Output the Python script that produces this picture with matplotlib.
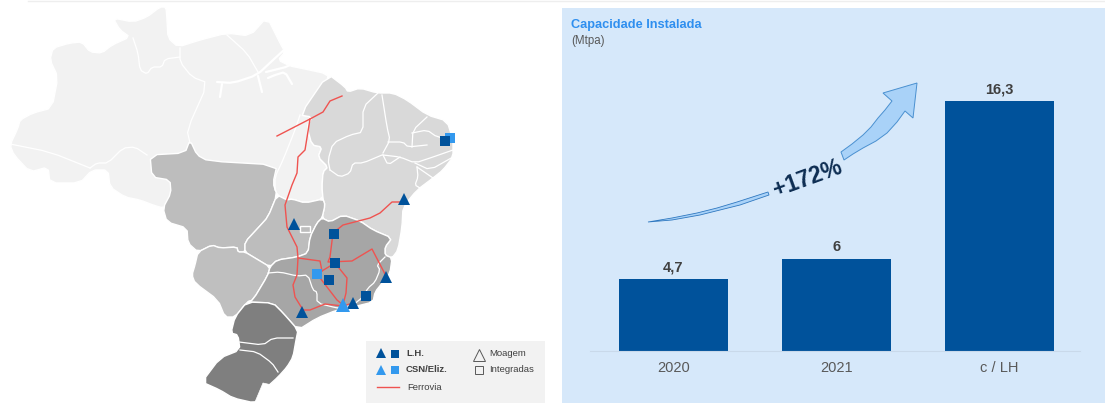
import matplotlib
matplotlib.use("Agg")
import matplotlib.pyplot as plt
from matplotlib.patches import Polygon, Rectangle

plt.rcParams['font.family'] = ['Liberation Sans', 'DejaVu Sans']

# bar chart data
categories = ["2020", "2021", "c / LH"]
capacity = [4.7, 6, 16.3]
capacity_labels = ["4,7", "6", "16,3"]

# map outlines (image pixels)
north = [(10,145),(18,128),(20,120),(33,113),(52,108),(58,77),(50,60),(53,48),(70,43),(82,42),(90,52),(102,53),
         (112,45),(130,37),(120,30),(113,18),(133,22),(147,17),(160,7),(166,7),(167,20),(168,38),(178,47),(200,40),
         (227,33),(250,36),(267,17),(280,43),(285,52),(278,60),(290,66),(300,68),(328,74),(327,83),(300,115),
         (312,117),(307,127),(312,145),(322,147),(318,157),(328,167),(323,172),(322,187),(323,199),(305,203),
         (292,199),(287,200),(277,195),(273,183),(200,200),(163,208),(153,205),(140,200),(125,197),(110,187),
         (108,170),(92,170),(80,183),(50,183),(48,167),(30,172),(14,155)]
northeast = [(300,115),(328,74),(345,87),(348,92),(360,88),(377,93),(393,93),(407,100),(427,115),(447,121),
             (453,140),(453,157),(443,170),(433,178),(417,190),(403,207),(402,227),(398,250),(392,258),(385,255),
             (385,247),(392,238),(373,230),(360,221),(343,215),(330,222),(322,218),(325,205),(323,199),(322,187),
             (323,172),(328,167),(318,157),(322,147),(312,145),(307,127),(312,117)]
mato_grosso = [(150,155),(185,153),(190,140),(197,155),(208,161),(277,165),(273,183),(277,195),(268,217),(258,228),
               (245,242),(245,252),(238,252),(237,247),(220,248),(212,245),(198,252),(188,243),(187,228),(167,222),
               (163,208),(171,193),(170,180),(152,177)]
goias = [(277,195),(287,200),(292,199),(305,203),(323,199),(325,205),(322,218),(317,223),(310,237),(308,253),
         (297,257),(277,260),(270,267),(255,258),(245,252),(245,242),(258,228),(268,217)]
mato_grosso_sul = [(198,252),(212,245),(220,248),(237,247),(238,252),(245,252),(255,258),(270,267),(268,275),
                   (253,300),(247,302),(235,317),(225,317),(218,300),(195,283),(192,275),(195,265)]
southeast = [(310,237),(317,223),(322,218),(330,222),(343,215),(360,221),(373,230),(392,238),(385,247),(385,255),
             (392,258),(390,273),(383,282),(375,292),(373,302),(353,307),(337,310),(317,318),(298,330),(283,313),
             (273,303),(247,302),(253,300),(268,275),(270,267),(277,260),(297,257),(308,253)]
south = [(247,302),(273,303),(283,313),(298,330),(296,340),(293,357),(287,367),(278,377),(267,387),(260,397),
         (255,403),(233,398),(220,390),(202,382),(220,358),(240,350),(238,335),(231,333),(235,317)]
lagoa = [(255,402),(263,383),(272,385),(262,400)]
distrito_federal = [(300,226),(310,226),(310,232),(300,232)]

state_lines = [
    [(180,48),(180,62),(192,77),(208,83),(187,130),(190,143)],
    [(133,38),(138,53),(140,70),(147,74),(152,67),(162,67),(165,59),(180,57)],
    [(10,144),(50,152),(90,168)],
    [(90,168),(97,163),(108,163),(123,148),(135,147),(147,155)],
    [(227,35),(247,53),(258,72)],
    [(300,115),(295,130),(283,160),(275,177),(275,190)],
    [(378,93),(363,107),(363,132),(350,135),(333,143),(328,160),(330,170)],
    [(382,95),(387,127),(390,140),(383,153)],
    [(330,170),(340,177),(350,173),(353,163),(363,163),(382,155)],
    [(388,142),(403,142),(408,147),(427,145)],
    [(427,117),(413,130),(412,147)],
    [(412,133),(427,130),(437,137),(450,138)],
    [(383,155),(400,157),(415,163),(433,157),(453,150)],
    [(383,155),(388,165),(400,157)],
    [(415,163),(430,170),(453,157)],
    [(417,167),(433,178)],
    [(417,167),(418,177),(415,185),(420,188)],
    [(268,273),(280,272),(297,276),(308,275),(313,290),(317,292),(317,303),(337,308),(340,308)],
    [(338,308),(353,305),(363,297),(368,288),(375,282),(380,270),(377,265),(385,257)],
    [(239,342),(263,345),(273,338),(293,338)],
    [(240,350),(257,352),(272,363),(278,372)],
]
amazon_lines = [
    [(217,82),(233,83),(257,75),(273,60),(284,50)],
    [(222,84),(220,97)],
    [(258,76),(262,92)],
    [(268,78),(275,75),(285,72),(292,84)],
    [(266,72),(290,66),(300,56)],
]

railways = [
    [(277,136),(310,119),(323,112),(330,101),(342,96)],
    [(310,119),(305,150),(298,157),(297,173),(292,185),(285,205),(287,227),(297,247),(298,258),(297,275),
     (293,285),(295,297),(303,310)],
    [(298,258),(320,261),(322,271)],
    [(405,202),(392,202),(380,213),(370,218),(343,225),(333,233),(330,257),(328,262),(352,261),(372,249),(386,276)],
    [(317,274),(335,263),(347,278),(346,293),(343,305)],
    [(317,274),(337,300),(343,305)],
    [(302,310),(310,310),(325,304),(343,306),(353,303)],
]

lh_moagem = [(404,199),(294,224),(386,277),(302,312),(353,303)]
lh_integradas = [(445,141),(334,234),(335,263),(329,280),(366,296)]
csn_moagem = [(343,305)]
csn_integradas = [(450,138),(317,274)]

arrow_head = [(841,152),(852,144),(863,135),(871,127),(878,118),(885,110),(892,101),(883,93),(917,83),(913,118),
              (905,111),(897,122),(887,133),(876,141),(863,148),(853,154),(844,160)]
arrow_tail = [(648,222),(672,218),(697,213),(717,208),(737,202),(768,192),(769,195),(740,205),(720,210),(700,215),
              (672,220)]

DARK = "#00529b"
LIGHT = "#3399ee"
RED = "#ef5350"


# rounds the corners of a traced outline a little
def soften(pts, closed=True):
    out = []
    n = len(pts)
    for i in range(n if closed else n - 1):
        x0, y0 = pts[i]
        x1, y1 = pts[(i + 1) % n]
        out.append((x0 + 0.2 * (x1 - x0), y0 + 0.2 * (y1 - y0)))
        out.append((x0 + 0.8 * (x1 - x0), y0 + 0.8 * (y1 - y0)))
    if not closed:
        out = [pts[0]] + out + [pts[-1]]
    return out


fig = plt.figure(figsize=(11.05, 4.03), dpi=100)
ax = fig.add_axes([0, 0, 1, 1])
ax.set_xlim(0, 1105)
ax.set_ylim(403, 0)
ax.axis("off")

ax.plot([28, 1105], [0.5, 0.5], color="#eeeeee", lw=1)

# map
for poly, col in [(north, "#f2f2f2"), (northeast, "#d9d9d9"), (mato_grosso, "#bdbdbd"), (goias, "#bdbdbd"),
                  (mato_grosso_sul, "#bfbfbf"), (southeast, "#a6a6a6"), (south, "#7f7f7f")]:
    ax.add_patch(Polygon(soften(poly), closed=True, facecolor=col, edgecolor="white", lw=1, joinstyle="round"))
ax.add_patch(Polygon(lagoa, closed=True, facecolor="white", edgecolor="white", lw=0.5))
ax.add_patch(Polygon(distrito_federal, closed=True, facecolor="#bdbdbd", edgecolor="white", lw=1))
for line in state_lines:
    ax.plot(*zip(*soften(line, closed=False)), color="white", lw=0.9, solid_joinstyle="round")
for line in amazon_lines:
    ax.plot(*zip(*soften(line, closed=False)), color="white", lw=1.6, solid_capstyle="round")
for line in railways:
    ax.plot(*zip(*line), color=RED, lw=1.0, solid_joinstyle="round")

ax.plot(*zip(*csn_integradas), ls="none", marker="s", ms=6.5, color=LIGHT, mew=0)
ax.plot(*zip(*lh_moagem), ls="none", marker="^", ms=8.5, color=DARK, mew=0)
ax.plot(*zip(*lh_integradas), ls="none", marker="s", ms=6.5, color=DARK, mew=0)
ax.plot(*zip(*csn_moagem), ls="none", marker="^", ms=9.5, color=LIGHT, mew=0)

# legend box
ax.add_patch(Rectangle((366, 341), 179, 62, facecolor="#f2f2f2", edgecolor="none"))
ax.plot([381], [353], marker="^", ms=7.5, color=DARK, mew=0)
ax.plot([395], [353.5], marker="s", ms=5.5, color=DARK, mew=0)
ax.plot([381], [370], marker="^", ms=7.5, color=LIGHT, mew=0)
ax.plot([395], [370], marker="s", ms=5.5, color=LIGHT, mew=0)
ax.plot([377, 399], [387, 387], color=RED, lw=1)
ax.plot([479], [355], marker="^", ms=8, mfc="none", mec="#595959", mew=0.7)
ax.plot([479], [370], marker="s", ms=5.5, mfc="none", mec="#595959", mew=0.7)
ax.text(406, 353, "L.H.", fontsize=6.8, fontweight="bold", color="#404040", va="center")
ax.text(406, 369, "CSN/Eliz.", fontsize=6.8, fontweight="bold", color="#404040", va="center")
ax.text(407, 387, "Ferrovia", fontsize=6.8, color="#404040", va="center")
ax.text(489, 353, "Moagem", fontsize=6.8, color="#404040", va="center")
ax.text(489, 369, "Integradas", fontsize=6.8, color="#404040", va="center")

# right panel
ax.add_patch(Rectangle((562, 8), 543, 395, facecolor="#d6e8fa", edgecolor="none"))
ax.text(571, 25, "Capacidade Instalada", fontsize=9.2, fontweight="bold", color="#2f8fef", va="center")
ax.text(571, 41, "(Mtpa)", fontsize=8.3, color="#595959", va="center")

# bars, axes box placed so that 0 sits on y=351 and the centres are 163 px apart
bx = fig.add_axes([590 / 1105, (403 - 351) / 403, 490 / 1105, 271 / 403])
bx.patch.set_alpha(0)
x = range(len(categories))
bars = bx.bar(x, capacity, width=0.669, color=DARK)
bx.set_xlim(-0.512, 2.494)
bx.set_ylim(0, 271 / (250 / 16.3))
for s in ["top", "left", "right"]:
    bx.spines[s].set_visible(False)
bx.spines["bottom"].set_color("#c9d9ea")
bx.spines["bottom"].set_linewidth(0.8)
bx.set_yticks([])
bx.set_xticks(list(x))
bx.set_xticklabels(categories, fontsize=10.5, color="#595959")
bx.tick_params(axis="x", length=0, pad=7.5)
for b, lab in zip(bars, capacity_labels):
    bx.annotate(lab, (b.get_x() + b.get_width() / 2, b.get_height()), xytext=(0, 3.5), textcoords="offset points",
                ha="center", va="bottom", fontsize=10.5, fontweight="bold", color="#404040")

# growth arrow
ax.add_patch(Polygon(arrow_head, closed=True, facecolor="#a9d2f8", edgecolor="#4a90d0", lw=0.7, zorder=5))
ax.add_patch(Polygon(arrow_tail, closed=True, facecolor="#a9d2f8", edgecolor="#2f78c0", lw=0.6, zorder=5))
ax.text(808, 179, "+172%", fontsize=16.5, fontweight="bold", color="#0d2d52", rotation=20, ha="center", va="center",
        zorder=6)

fig.savefig("out.png", dpi=100)
